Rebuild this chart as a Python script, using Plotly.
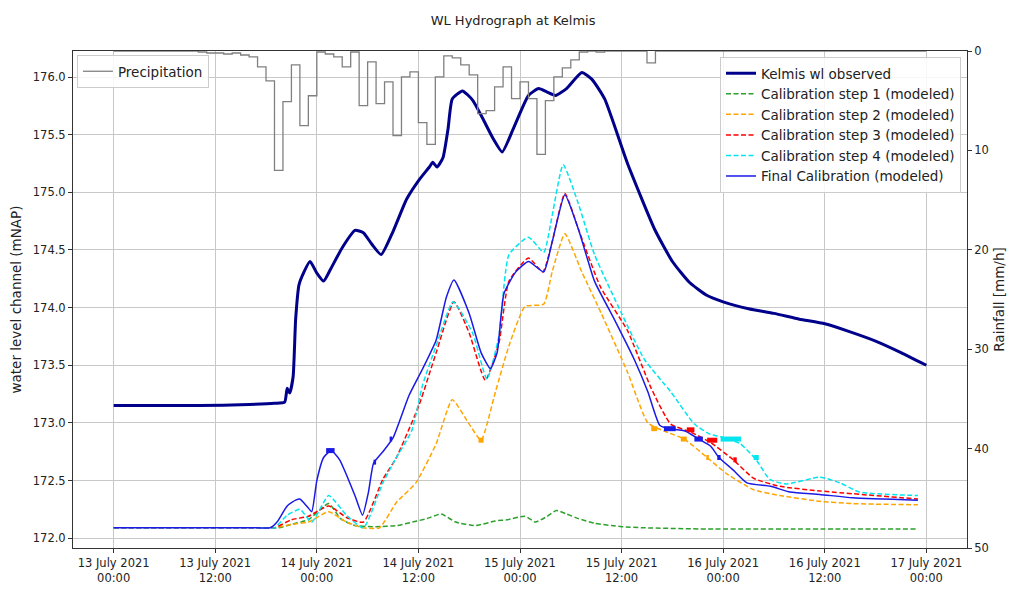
import pandas as pd
import plotly.graph_objects as go

BASE = pd.Timestamp("2021-07-13 00:00")

# ---------------- data (hours since 13 July 2021 00:00) ----------------
obs_h = [0, 10, 16, 19, 20.2, 20.5, 20.8, 21.2, 21.5, 21.9, 22.3, 23.2, 24.0, 24.8, 25.6, 27.0,
         28.5, 29.5, 30.5, 31.6, 33.0, 34.6, 36.0, 37.3, 37.7, 38.2, 38.9, 39.5, 40.0, 41.2,
         42.4, 43.6, 44.8, 45.9, 47.2, 49.0, 50.2, 51.2, 52.2, 53.5, 55.3, 56.5, 58.0, 60.7,
         63.9, 66.0, 68.0, 70.0, 72.0, 75.0, 78.0, 81.0, 84.0, 87.0, 90.0, 93.0, 96.0]
obs_v = [173.15, 173.15, 173.16, 173.17, 173.18, 173.30, 173.26, 173.40, 173.90, 174.20, 174.28,
         174.40, 174.30, 174.23, 174.33, 174.52, 174.67, 174.65, 174.55, 174.46, 174.66, 174.94,
         175.10, 175.22, 175.26, 175.22, 175.30, 175.55, 175.81, 175.88, 175.80, 175.64, 175.47,
         175.35, 175.55, 175.84, 175.90, 175.87, 175.84, 175.90, 176.04, 175.98, 175.81, 175.25,
         174.68, 174.40, 174.22, 174.11, 174.05, 173.99, 173.95, 173.90, 173.86, 173.79, 173.71,
         173.61, 173.50]

s1_h = [0, 10, 17.5, 19.5, 21.0, 23.0, 25.4, 26.8, 28.5, 31.0, 33.5, 35.3, 37.0, 38.7, 40.4,
        42.8, 45.1, 46.5, 48.6, 49.8, 51.0, 52.3, 53.5, 54.9, 56.8, 58.8, 60.0, 62.7, 70.0,
        80.0, 95.0]
s1_v = [172.09, 172.09, 172.09, 172.09, 172.12, 172.16, 172.30, 172.17, 172.11, 172.10, 172.11,
        172.14, 172.17, 172.21, 172.14, 172.11, 172.15, 172.16, 172.19, 172.14, 172.18, 172.24,
        172.21, 172.17, 172.13, 172.11, 172.10, 172.09, 172.08, 172.08, 172.08]

s2_h = [0, 10, 17.5, 19.0, 21.0, 23.0, 25.4, 27.5, 29.5, 31.4, 33.4, 35.7, 38.1, 40.0, 42.0,
        43.4, 45.1, 46.7, 48.6, 50.8, 51.8, 53.3, 55.3, 57.6, 60.7, 63.1, 65.0, 67.4, 70.1,
        72.4, 75.6, 78.7, 83.4, 87.3, 95.0]
s2_v = [172.09, 172.09, 172.09, 172.09, 172.12, 172.14, 172.23, 172.14, 172.09, 172.09, 172.31,
        172.48, 172.82, 173.20, 172.99, 172.85, 173.27, 173.67, 174.01, 174.03, 174.31, 174.64,
        174.31, 173.95, 173.44, 173.00, 172.93, 172.86, 172.70, 172.56, 172.42, 172.37, 172.32,
        172.30, 172.29]

s3_h = [0, 10, 17.5, 19.0, 21.0, 23.0, 25.4, 27.5, 29.5, 31.8, 33.4, 36.1, 38.1, 40.2, 42.0,
        43.9, 45.5, 46.7, 49.0, 50.7, 51.8, 53.3, 55.0, 57.5, 60.7, 63.5, 65.8, 68.2, 70.5,
        73.2, 75.6, 78.7, 83.4, 95.0]
s3_v = [172.09, 172.09, 172.09, 172.09, 172.16, 172.19, 172.28, 172.18, 172.14, 172.51, 172.70,
        173.16, 173.61, 174.05, 173.78, 173.37, 173.69, 174.23, 174.43, 174.31, 174.57, 174.99,
        174.66, 174.18, 173.80, 173.30, 172.99, 172.92, 172.83, 172.68, 172.52, 172.45, 172.41,
        172.34]

s4_h = [0, 10, 17.5, 19.0, 20.5, 22.0, 23.4, 25.4, 27.5, 29.5, 31.8, 33.4, 35.2, 36.5, 38.1,
        40.1, 42.4, 44.1, 45.5, 46.7, 49.0, 50.8, 51.8, 53.1, 54.9, 56.8, 60.0, 62.7, 65.8,
        68.6, 70.5, 71.7, 74.0, 75.9, 77.5, 79.5, 83.4, 85.8, 88.1, 95.0]
s4_v = [172.09, 172.09, 172.09, 172.09, 172.20, 172.25, 172.14, 172.37, 172.20, 172.09, 172.48,
        172.70, 172.93, 173.33, 173.67, 174.05, 173.78, 173.38, 173.75, 174.46, 174.61, 174.48,
        174.80, 175.24, 174.90, 174.46, 173.95, 173.55, 173.27, 172.99, 172.90, 172.88, 172.82,
        172.68, 172.51, 172.47, 172.53, 172.48, 172.40, 172.37]

fin_h = [0, 10, 17.0, 18.5, 19.3, 20.5, 21.5, 22.0, 22.9, 23.4, 24.0, 24.8, 25.7, 26.7, 27.5,
         28.5, 29.4, 30.1, 30.7, 31.8, 33.0, 34.9, 36.5, 38.1, 39.3, 40.2, 42.0, 43.4, 44.5,
         45.3, 46.1, 47.5, 49.0, 50.8, 51.8, 53.3, 54.9, 56.8, 59.2, 61.5, 63.1, 64.5, 65.6,
         67.5, 69.1, 70.5, 71.5, 73.2, 74.8, 77.6, 79.9, 83.4, 87.3, 95.0]
fin_v = [172.09, 172.09, 172.09, 172.09, 172.14, 172.28, 172.33, 172.34, 172.27, 172.23, 172.50,
         172.70, 172.76, 172.68, 172.55, 172.37, 172.20, 172.40, 172.65, 172.75, 172.87, 173.24,
         173.47, 173.72, 174.09, 174.24, 173.95, 173.61, 173.47, 173.61, 174.12, 174.31, 174.40,
         174.31, 174.57, 174.98, 174.68, 174.23, 173.89, 173.55, 173.27, 172.98, 172.95, 172.93,
         172.86, 172.80, 172.70, 172.59, 172.48, 172.45, 172.40, 172.38, 172.35, 172.33]

# short stretches where the modelled series oscillate rapidly (drawn as thick blobs)
fin_blob_h = [(25.1, 26.1), (30.7, 31.0), (32.6, 32.9), (65.0, 66.4), (68.6, 69.6), (71.3, 71.7)]
fin_blob_v = [172.76, 172.66, 172.86, 172.95, 172.86, 172.70]
s2_blob_h = [(43.1, 43.7), (63.5, 64.2), (67.0, 67.7), (70.0, 70.3)]
s2_blob_v = [172.85, 172.95, 172.86, 172.70]
s3_blob_h = [(67.7, 68.6), (70.1, 71.3), (73.2, 73.6)]
s3_blob_v = [172.94, 172.85, 172.68]
s4_blob_h = [(71.7, 74.1), (75.6, 76.2)]
s4_blob_v = [172.86, 172.70]

rain_h = list(range(0, 97))
rain_v = ([0.0] * 10 +
          [0.1, 0.2, 0.2, 0.3, 0.2, 0.4, 0.6, 1.6, 3.0, 12.0,        # 10-19
           5.1, 1.4, 7.5, 4.5, 0.1, 0.3, 0.6, 1.6, 0.1, 5.5,          # 20-29
           1.1, 5.3, 3.1, 8.5, 2.6, 2.1, 7.2, 9.4, 2.6, 0.5,          # 30-39
           0.7, 1.4, 2.4, 6.3, 6.0, 3.6, 1.6, 4.8, 3.1, 4.8,          # 40-49
           10.4, 5.0, 2.6, 1.7, 0.9, 0.1, 0.0, 0.1, 0.0, 0.0,         # 50-59
           0.0, 0.0, 0.0, 1.2] +                                      # 60-63
          [0.0] * 33)

tick_hours = [0, 12, 24, 36, 48, 60, 72, 84, 96]
tick_text = ["13 July 2021<br>00:00", "13 July 2021<br>12:00", "14 July 2021<br>00:00",
             "14 July 2021<br>12:00", "15 July 2021<br>00:00", "15 July 2021<br>12:00",
             "16 July 2021<br>00:00", "16 July 2021<br>12:00", "17 July 2021<br>00:00"]
wl_ticks = [172.0, 172.5, 173.0, 173.5, 174.0, 174.5, 175.0, 175.5, 176.0]
rain_ticks = [0, 10, 20, 30, 40, 50]


def tt(hours):
    return [BASE + pd.Timedelta(hours=h) for h in hours]


FONT = "DejaVu Sans"
DASH = "5px,2.5px"
SMOOTH = dict(shape="spline", smoothing=0.5)

fig = go.Figure()
fig.add_trace(go.Scatter(x=tt(obs_h), y=obs_v, mode="lines", name="Kelmis wl observed",
                         line=dict(color="#00008B", width=3, **SMOOTH), legend="legend"))
fig.add_trace(go.Scatter(x=tt(s1_h), y=s1_v, mode="lines", name="Calibration step 1 (modeled)",
                         line=dict(color="#2ca02c", width=1.5, dash=DASH, **SMOOTH), legend="legend"))
fig.add_trace(go.Scatter(x=tt(s2_h), y=s2_v, mode="lines", name="Calibration step 2 (modeled)",
                         line=dict(color="#FFA500", width=1.5, dash=DASH, **SMOOTH), legend="legend"))
fig.add_trace(go.Scatter(x=tt(s3_h), y=s3_v, mode="lines", name="Calibration step 3 (modeled)",
                         line=dict(color="#FF0000", width=1.5, dash=DASH, **SMOOTH), legend="legend"))
fig.add_trace(go.Scatter(x=tt(s4_h), y=s4_v, mode="lines", name="Calibration step 4 (modeled)",
                         line=dict(color="#00E5EE", width=1.5, dash=DASH, **SMOOTH), legend="legend"))
fig.add_trace(go.Scatter(x=tt(fin_h), y=fin_v, mode="lines", name="Final Calibration (modeled)",
                         line=dict(color="#1a1ae6", width=1.5, **SMOOTH), legend="legend"))


def add_blobs(spans, vals, color):
    xs, ys = [], []
    for (h0, h1), v in zip(spans, vals):
        xs += tt([h0, h1]) + [None]
        ys += [v, v, None]
    fig.add_trace(go.Scatter(x=xs, y=ys, mode="lines", showlegend=False, hoverinfo="skip",
                             line=dict(color=color, width=5), legend="legend"))


add_blobs(s2_blob_h, s2_blob_v, "#FFA500")
add_blobs(s3_blob_h, s3_blob_v, "#FF0000")
add_blobs(s4_blob_h, s4_blob_v, "#00E5EE")
add_blobs(fin_blob_h, fin_blob_v, "#1a1ae6")

fig.add_trace(go.Scatter(x=tt(rain_h), y=rain_v, mode="lines", name="Precipitation",
                         line=dict(color="#808080", width=1.3, shape="hv"),
                         yaxis="y2", legend="legend2"))

TICKFONT = dict(family=FONT, size=11.5, color="#222222")
axis_common = dict(showline=True, linecolor="#333333", linewidth=1, mirror=True,
                   ticks="outside", ticklen=4, tickcolor="#333333", tickfont=TICKFONT)

fig.update_layout(
    width=1016, height=597,
    margin=dict(l=73, r=42, t=51, b=36),
    paper_bgcolor="white", plot_bgcolor="white",
    font=dict(family=FONT, color="#222222"),
    title=dict(text="WL Hydrograph at Kelmis", x=0.505, xanchor="center",
               y=0.966, yanchor="middle", font=dict(family=FONT, size=13, color="#222222")),
    xaxis=dict(type="date",
               range=[BASE - pd.Timedelta(hours=4.8), BASE + pd.Timedelta(hours=100.8)],
               tickvals=tt(tick_hours), ticktext=tick_text,
               showgrid=True, gridcolor="#c8c8c8", gridwidth=1, zeroline=False,
               **axis_common),
    yaxis=dict(range=[171.915, 176.226], tickvals=wl_ticks,
               ticktext=[f"{v:.1f}" for v in wl_ticks],
               showgrid=True, gridcolor="#c8c8c8", gridwidth=1, zeroline=False,
               title=dict(text="water level channel (mNAP)", standoff=8,
                          font=dict(family=FONT, size=13.5, color="#222222")),
               **axis_common),
    yaxis2=dict(overlaying="y", side="right", range=[50, 0], tickvals=rain_ticks,
                showgrid=False, zeroline=False,
                title=dict(text="Rainfall [mm/h]", standoff=6,
                           font=dict(family=FONT, size=13.5, color="#222222")),
                showline=True, linecolor="#333333", linewidth=1,
                ticks="outside", ticklen=4, tickcolor="#333333", tickfont=TICKFONT),
    legend=dict(x=0.9933, xanchor="right", y=0.988, yanchor="top",
                bgcolor="rgba(255,255,255,0.85)", bordercolor="#cccccc", borderwidth=1,
                font=dict(family=FONT, size=13.5, color="#222222"), tracegroupgap=0),
    legend2=dict(x=0.0044, xanchor="left", y=0.992, yanchor="top",
                 bgcolor="rgba(255,255,255,0.85)", bordercolor="#cccccc", borderwidth=1,
                 font=dict(family=FONT, size=13.5, color="#222222")),
)

fig.write_html("out.html")
